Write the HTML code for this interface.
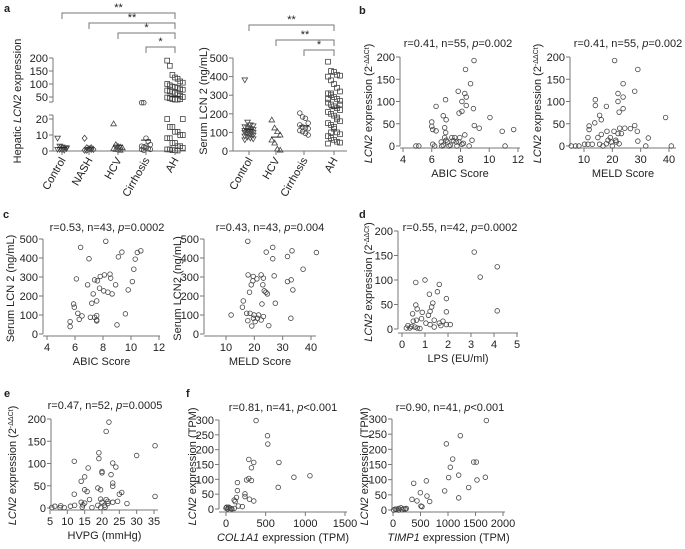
<!DOCTYPE html>
<html><head><meta charset="utf-8"><style>
body{margin:0;background:#fff}
svg{display:block;font-family:"Liberation Sans",Arial,sans-serif;fill:#222}
text{font-size:11px}
</style></head><body>
<svg id="fig" width="685" height="549" viewBox="0 0 685 549"></svg>
<script>
// ---------- DATA ----------
const aLeftCats=["Control","NASH","HCV","Cirrhosis","AH"];
const aLeftControl=[8,3,2.5,2,1.5,1,1,0.5,0.5,2];
const aLeftNASH=[8,2,1.5,1,1,0.5,0.5,1,2];
const aLeftHCV=[17,4,3,2.5,2,1.5,1,1,0.5];
const aLeftCirrhosis=[28,28,8,6,4,3,2.5,2,1.5,1,1,0.5,3];
const aLeftAH=[190,170,135,125,120,110,105,100,95,90,88,85,80,78,75,72,70,65,60,55,50,48,45,42,40,40,42,20,20,15,15,12,12,10,10,8,8,5,5,3,3,2,1,1,0.5,0.5,0.3];
const aLeftTicksLow=[0,10,20];
const aLeftTicksHigh=[50,100,150,200];
const aRightCats=["Control","HCV","Cirrhosis","AH"];
const aRightControl=[382,155,140,135,130,125,120,115,110,110,105,100,100,95,90,85,80,75,70,65,60];
const aRightHCV=[167,124,104,86,59,43,10,5];
const aRightCirrhosis=[204,183,176,150,140,130,124,120,110,104,95,86];
const aRightAH=[480,430,425,410,405,400,380,360,340,320,310,300,290,280,270,260,250,240,230,220,210,200,190,180,160,150,140,120,100,90,80,70,60,50,45,40,100,130,170,250,280,310];
const aRightTicks=[0,100,200,300,400,500];

const bAbicX=[8.94,8.35,8.7,7.84,8.3,8.4,6.96,8.1,8.4,6.3,8.9,8.1,7.9,10.05,6.8,7.0,6.0,6.0,6.9,6.07,6.3,6.97,8.96,9.3,10.9,11.7,8.3,6.9,7.4,7.6,7.95,8.8,6.66,7.1,7.7,7.9,6.07,6.2,6.7,7.2,7.75,8.1,8.6,11.1,4.9,5.1,6.8,7.3,7.0,8.2,7.5];
const bAbicY=[192,172,140,123,118,110,104,100,91,89,84,78,74,64,68,59,54,44,41,37,34,30,46,40,33,37,25,19,19,19,19,13,9,9,9,9,4,0,0,0,0,4,0,0,0,0,2,2,13,6,12];
const bMeldX=[20.8,29,23.8,27.9,22,23.8,14,22,14,17.9,23.8,22.4,15.5,16.1,13.8,38.8,11.8,11.8,27.9,28.8,18.1,24.4,22.6,26.4,20.6,22,23.2,16.1,11.4,14.9,19.3,21.2,29,32.7,19.6,17.9,15.5,12.9,11.4,10.2,31.8,5.5,7,8.2,40.8,21.4,22.4,18.5,16.7,20];
const bMeldY=[192,172,140,123,118,110,104,100,91,89,84,76,69,59,52,64,45,37,46,33,33,40,40,39,33,28,28,26,19,19,19,13,11,18,9,5,4,4,4,4,0,0,0,0,0,9,5,13,0,0];
const bTicksY=[0,50,100,150,200];
const bTicksAbic=[4,6,8,10,12];
const bTicksMeld=[10,20,30,40];

const cAbicX=[8.2,6.4,7.0,9.1,9.35,10.45,10.7,10.3,10.2,10.1,9.8,8.9,8.5,8.1,7.8,8.55,7.6,7.4,6.9,6.1,8.05,8.35,8.65,7.3,7.55,7.2,5.9,5.95,6.2,6.5,6.3,7.55,7.55,7.1,7.55,5.65,5.65,9.6,9.0,7.4,7.75];
const cAbicY=[488,456,396,406,431,429,438,394,341,276,232,259,315,311,303,294,280,285,259,290,227,220,211,211,174,162,158,141,109,95,77,97,74,88,69,65,39,106,48,88,241];
const cMeldX=[17.7,26.5,24.2,26.5,33.3,31.7,41.9,37.2,33,31.7,33.6,27,17.8,19.6,22.4,23.2,20.9,23,18.9,19.5,18.3,24.1,24.6,23.5,16.1,27.4,22.7,15.8,11.8,17.3,18.5,19.9,21.5,19.7,21.1,23.2,22.4,20.3,17.7,19.1,25.1,32.9];
const cMeldY=[488,456,431,396,438,408,429,341,285,276,232,306,311,303,311,294,290,259,259,280,220,220,211,227,174,162,158,141,100,109,109,100,100,83,83,92,74,65,70,42,44,83];
const cTicksY=[0,100,200,300,400,500];
const cTicksAbic=[4,6,8,10,12];
const cTicksMeld=[10,20,30,40];

const dLpsX=[0.6,1.0,1.62,1.19,1.54,1.93,0.6,0.66,0.46,0.88,1.34,1.29,1.22,1.15,0.85,0.63,0.49,0.26,0.41,0.56,0.66,0.78,1.04,1.22,1.4,1.62,1.78,1.93,2.1,1.69,1.4,0.19,0.34,1.93,3.14,4.14,3.4,4.14];
const dLpsY=[95,100,91,71,76,62,49,41,31,34,53,45,36,28,21,18,16,7,5,4,2,1,12,9,4,12,16,9,9,7,18,2,2,35,157,127,106,37];
const dTicksY=[0,50,100,150,200];
const dTicksX=[0,1,2,3,4,5];

const eHvpgX=[22,21.2,35.3,19.1,19.1,30,12,23.1,24,16,20,20,22.6,15,14,23.1,23.1,18.8,19.6,15,15.7,12,25,25.7,35.3,19.6,21.2,21.7,23.1,24.5,16.4,14,14.5,15,12.1,10.9,14.3,17.1,18.8,19.6,20.7,21.7,27.2,5.5,6.4,8.1,9.1,7.9,20,20.9];
const eHvpgY=[193,172,140,124,111,118,105,101,92,90,82,79,75,70,60,56,49,45,41,41,37,31,31,35,26,20,19,15,13,15,19,13,7,11,6,4,2,1,6,1,6,10,10,1,4,5,1,1,13,2];
const eTicksY=[0,50,100,150,200];
const eTicksX=[5,10,15,20,25,30,35];

const fColX=[379,523,527,288,350,321,667,1058,856,288,259,321,658,144,144,132,103,239,239,296,350,156,206,103,74,0,20,41,33,8,62,115];
const fColY=[298,247,219,167,157,139,157,112,107,103,98,96,73,89,62,39,30,51,42,33,27,10,8,2,0,3,0,3,6,6,2,25];
const fTimpX=[1697,1224,970,1085,1042,1467,1515,1679,1194,1012,1527,1376,939,1194,606,376,497,618,667,345,436,509,527,42,103,145,194,242,61,103,164,224,12];
const fTimpY=[295,245,218,168,141,158,158,108,115,107,99,74,63,40,96,88,57,46,28,35,30,13,11,3,5,7,4,5,2,0,1,3,0];
const fTicksY=[0,50,100,150,200,250,300];
const fTicksCol=[0,500,1000,1500];
const fTicksTimp=[0,500,1000,1500,2000];

// ---------- DRAWING ----------
const NS='http://www.w3.org/2000/svg';
const svg=document.getElementById('fig');
const AX='#777';
function mk(tag,attrs,parent){const e=document.createElementNS(NS,tag);for(const k in attrs)e.setAttribute(k,attrs[k]);(parent||svg).appendChild(e);return e;}
function txt(s,x,y,opt,parent,name){
  const t=mk('text',Object.assign({x:x,y:y},opt||{}),parent);
  t.textContent=s;
  
  
  return t;
}
function line(x1,y1,x2,y2,parent,col){
  return mk('line',{x1:x1,y1:y1,x2:x2,y2:y2,stroke:col||AX,'stroke-width':1},parent);
}
function lin(v0,p0,v1,p1){return v=>p0+(v-v0)*(p1-p0)/(v1-v0);}
function marker(shape,x,y,g){
  let m;
  if(shape==='circle') m=mk('circle',{cx:x,cy:y,r:2.3},g);
  else if(shape==='square') m=mk('rect',{x:x-2.4,y:y-2.4,width:4.8,height:4.8},g);
  else if(shape==='tridown') m=mk('polygon',{points:`${x-2.8},${y-2} ${x+2.8},${y-2} ${x},${y+2.8}`},g);
  else if(shape==='triup') m=mk('polygon',{points:`${x-2.8},${y+2} ${x+2.8},${y+2} ${x},${y-2.8}`},g);
  else m=mk('polygon',{points:`${x},${y-3} ${x+2.5},${y} ${x},${y+3} ${x-2.5},${y}`},g);
  m.setAttribute('fill','none');m.setAttribute('stroke','#444');m.setAttribute('stroke-width','0.8');
  
  
  return m;
}
function yTitle(parts,x,y,g,name,fs){
  const t=mk('text',{x:0,y:0,transform:`translate(${x},${y}) rotate(-90)`,'text-anchor':'middle'},g);
  if(fs) t.setAttribute('font-size',fs);
  
  
  parts.forEach(p=>{const s=mk('tspan',p.a||{},t);s.textContent=p.t;});
  return t;
}
const ddct=[{t:'LCN2',a:{'font-style':'italic'}},{t:' expression (2'},{t:'-ΔΔCt',a:{'baseline-shift':'super','font-size':'7px'}},{t:')'}];

function scatter(name,L,xs,ys,xt,yt,title,xlab,ylabParts,ylabX){
  const g=mk('g',{});
  
  
  const fs=L.fs||'11px';
  const sx=lin(L.xv0,L.xp0,L.xv1,L.xp1), sy=lin(0,L.y0,L.ymax,L.y1);
  const xa=mk('g',{},g);
  
  
  line(L.xs,L.xy,L.xe,L.xy,xa);
  xt.forEach(v=>{line(sx(v),L.xy,sx(v),L.xy+4,xa);txt(String(v),sx(v),L.xy+15,{'text-anchor':'middle','font-size':fs},xa,'x-tick-label');});
  const ya=mk('g',{},g);
  
  
  line(L.yx,L.y1,L.yx,L.y0,ya);
  yt.forEach(v=>{line(L.yx-4,sy(v),L.yx,sy(v),ya);txt(String(v),L.yx-5,sy(v)+4,{'text-anchor':'end','font-size':fs},ya,'y-tick-label');});
  const pts=mk('g',{},g);
  
  
  xs.forEach((v,i)=>marker('circle',sx(v),sy(ys[i]),pts));
  const t=mk('text',{x:L.tx,y:L.ty,'text-anchor':'middle'},g);
  
  
  const s1=mk('tspan',{},t);s1.textContent=title[0];
  const s2=mk('tspan',{'font-style':'italic'},t);s2.textContent='p';
  const s3=mk('tspan',{},t);s3.textContent=title[1];
  const xl=mk('text',{x:(L.xs+L.xe)/2,y:L.xy+29,'text-anchor':'middle'},g);
  
  
  xlab.forEach(p=>{const s=mk('tspan',p.a||{},xl);s.textContent=p.t;});
  yTitle(ylabParts,ylabX,(L.y0+L.y1)/2+2,g,'y-axis-title',L.lfs);
}

// panel letters
[['a',4,12],['b',359,14],['c',3,218],['d',359,218],['e',4,397],['f',186,397]].forEach(p=>{
  txt(p[0],p[1],p[2],{'font-weight':'bold','font-size':'11px'},svg,'panel-label-'+p[0]);
});

// ---- panel a left (broken axis) ----
(function(){
  const g=mk('g',{});
  
  
  const yx=53, y0=151;
  const sy=v=> v<=20 ? y0-v*1.6 : 97-(v-50)*0.26;
  const cx=[62,89,118,146,175];
  line(yx,y0,yx,115,g);line(yx,102,yx,58,g);
  line(yx-4,102,yx,102,g);line(yx-4,115,yx,115,g);
  aLeftTicksLow.concat(aLeftTicksHigh).forEach(v=>{line(yx-4,sy(v),yx,sy(v),g);txt(String(v),yx-5,sy(v)+4,{'text-anchor':'end'},g,'y-tick-label');});
  line(yx,y0,186,y0,g);
  const groups=[aLeftControl,aLeftNASH,aLeftHCV,aLeftCirrhosis,aLeftAH];
  const shapes=['tridown','diamond','triup','circle','square'];
  groups.forEach((arr,k)=>{
    const w=k===4?7:5;
    arr.forEach((v,i)=>marker(shapes[k],cx[k]+((i%w)-(w-1)/2)*(k===4?2.6:2.2),sy(v),g));
    const m=arr.reduce((a,b)=>a+b,0)/arr.length;
    const mm=line(cx[k]-5,sy(m),cx[k]+5,sy(m),g,'#222');
    
    line(cx[k],y0,cx[k],y0+4,g);
    txt(aLeftCats[k],cx[k]+4,160,{'text-anchor':'end',transform:`rotate(-60 ${cx[k]+4} 160)`},g,'category-label');
  });
  [[0,13,'**'],[1,23,'**'],[2,33,'*'],[3,47,'*']].forEach(b=>{
    const x1=cx[b[0]],x2=cx[4];
    const p=mk('path',{d:`M${x1},${b[1]+6}V${b[1]}H${x2}V${b[1]+6}`,fill:'none',stroke:AX},g);
    
    
    txt(b[2],(x1+x2)/2,b[1]-2,{'text-anchor':'middle','font-size':'9px'},g,'significance-stars');
  });
  yTitle([{t:'Hepatic '},{t:'LCN2',a:{'font-style':'italic'}},{t:' expression'}],21,101,g,'y-axis-title');
})();

// ---- panel a right ----
(function(){
  const g=mk('g',{});
  
  
  const yx=233,y0=151,sy=lin(0,151,500,58);
  const cx=[249,276,304,334];
  line(yx,y0,yx,58,g);line(yx,y0,347,y0,g);
  aRightTicks.forEach(v=>{line(yx-4,sy(v),yx,sy(v),g);txt(String(v),yx-5,sy(v)+4,{'text-anchor':'end'},g,'y-tick-label');});
  const groups=[aRightControl,aRightHCV,aRightCirrhosis,aRightAH];
  const shapes=['tridown','triup','circle','square'];
  groups.forEach((arr,k)=>{
    const w=k===3?5:4;
    arr.forEach((v,i)=>marker(shapes[k],cx[k]+((i%w)-(w-1)/2)*(k===3?3:2.8),sy(v),g));
    const m=arr.reduce((a,b)=>a+b,0)/arr.length;
    const mm=line(cx[k]-5,sy(m),cx[k]+5,sy(m),g,'#222');
    
    line(cx[k],y0,cx[k],y0+4,g);
    txt(aRightCats[k],cx[k]+4,160,{'text-anchor':'end',transform:`rotate(-60 ${cx[k]+4} 160)`},g,'category-label');
  });
  [[0,25,'**'],[1,40,'**'],[2,50,'*']].forEach(b=>{
    const x1=cx[b[0]],x2=cx[3];
    const p=mk('path',{d:`M${x1},${b[1]+6}V${b[1]}H${x2}V${b[1]+6}`,fill:'none',stroke:AX},g);
    
    
    txt(b[2],(x1+x2)/2,b[1]-2,{'text-anchor':'middle','font-size':'9px'},g,'significance-stars');
  });
  yTitle([{t:'Serum LCN 2 (ng/mL)'}],207,101,g,'y-axis-title');
})();

// ---- scatter panels ----
scatter('panel-b-abic',{yx:400,y0:146,y1:57,ymax:200,xv0:4,xp0:403,xv1:12,xp1:518,xs:400,xe:520,xy:148,tx:458,ty:47},
  bAbicX,bAbicY,bTicksAbic,bTicksY,['r=0.41, n=55, ','=0.002'],[{t:'ABIC Score'}],ddct,372);
scatter('panel-b-meld',{yx:570,y0:146,y1:57,ymax:200,xv0:10,xp0:584,xv1:40,xp1:669,xs:570,xe:676,xy:148,tx:628,ty:47},
  bMeldX,bMeldY,bTicksMeld,bTicksY,['r=0.41, n=55, ','=0.002'],[{t:'MELD Score'}],ddct,541);
scatter('panel-c-abic',{yx:43,y0:334,y1:239,ymax:500,xv0:4,xp0:47,xv1:12,xp1:159,xs:43,xe:160,xy:336,tx:107,ty:231},
  cAbicX,cAbicY,cTicksAbic,cTicksY,['r=0.53, n=43, ','=0.0002'],[{t:'ABIC Score'}],[{t:'Serum LCN 2 (ng/mL)'}],14);
scatter('panel-c-meld',{yx:204,y0:334,y1:239,ymax:500,xv0:10,xp0:226,xv1:40,xp1:311,xs:204,xe:316,xy:336,tx:270,ty:231},
  cMeldX,cMeldY,cTicksMeld,cTicksY,['r=0.43, n=43, ','=0.004'],[{t:'MELD Score'}],[{t:'Serum LCN2 (ng/mL)'}],181);
scatter('panel-d-lps',{yx:398,y0:329,y1:231,ymax:200,xv0:0,xp0:402,xv1:5,xp1:517,xs:398,xe:518,xy:333,tx:460,ty:231},
  dLpsX,dLpsY,dTicksX,dTicksY,['r=0.55, n=42, ','=0.0002'],[{t:'LPS (EU/ml)'}],ddct,372);
scatter('panel-e-hvpg',{yx:51,y0:508,y1:419,ymax:200,xv0:5,xp0:50,xv1:35,xp1:154,xs:51,xe:158,xy:510,tx:105,ty:409},
  eHvpgX,eHvpgY,eTicksX,eTicksY,['r=0.47, n=52, ','=0.0005'],[{t:'HVPG (mmHg)'}],ddct,16);
scatter('panel-f-col1a1',{yx:219,y0:509,y1:420,ymax:300,xv0:0,xp0:226,xv1:1500,xp1:345,xs:219,xe:347,xy:512,tx:283,ty:411,fs:'10px',lfs:'10px'},
  fColX,fColY,fTicksCol,fTicksY,['r=0.81, n=41, ','<0.001'],[{t:'COL1A1',a:{'font-style':'italic'}},{t:' expression (TPM)'}],[{t:'LCN2',a:{'font-style':'italic'}},{t:' expression (TPM)'}],196);
scatter('panel-f-timp1',{yx:392,y0:510,y1:419,ymax:300,xv0:0,xp0:393,xv1:2000,xp1:503,xs:392,xe:505,xy:512,tx:450,ty:411,fs:'10px',lfs:'10px'},
  fTimpX,fTimpY,fTicksTimp,fTicksY,['r=0.90, n=41, ','<0.001'],[{t:'TIMP1',a:{'font-style':'italic'}},{t:' expression (TPM)'}],[{t:'LCN2',a:{'font-style':'italic'}},{t:' expression (TPM)'}],368);
</script>
</body></html>
